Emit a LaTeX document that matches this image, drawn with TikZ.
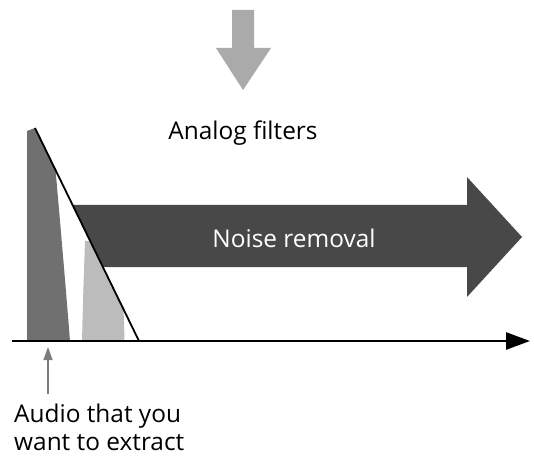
\documentclass[tikz,border=0pt]{standalone}
\usepackage{fontspec}
\setmainfont{Open Sans}
\usetikzlibrary{arrows.meta}
\definecolor{arrowdark}{RGB}{72,72,72}
\definecolor{banddark}{RGB}{112,112,112}
\definecolor{bandlight}{RGB}{188,188,188}
\definecolor{filtgray}{RGB}{170,170,170}
\definecolor{pointgray}{RGB}{125,125,125}

\begin{document}
\begin{tikzpicture}[
  x = 1bp, y = -1bp,
  > = {Triangle[length=24bp,width=17bp]},
  lbl/.style = {inner sep=0pt, font=\fontsize{24.5}{28}\selectfont},
  blockarrow/.style = {fill=arrowdark, draw=none},
  band/.style = {draw=none},
  pointer/.style = {draw=pointgray, line width=1.4bp,
                    -{Triangle[length=13bp,width=9bp]}}
]
\useasboundingbox (0,0) rectangle (534,456);

% filter arrow on top
\fill[filtgray] (232,10) -- (254,10) -- (254,48) -- (271,48)
  -- (243,90) -- (216,48) -- (232,48) -- cycle;
\node[lbl, anchor=base] (filt) at (243,140) {Analog filters};

% noise removal arrow
\fill[blockarrow] (72.6,205) -- (467,205) -- (467,177) -- (522,237)
  -- (467,297) -- (467,267) -- (102.9,267) -- cycle;
\node[lbl, anchor=base, text=white] (noise) at (294,248) {Noise removal};

% audio bands
\fill[banddark] (27,131) -- (35,128) -- (55.5,170)
  .. controls (60,220) and (66,290) .. (70,341) -- (27,341) -- cycle;
\fill[bandlight] (85,241) -- (90.2,241) -- (123.4,309)
  .. controls (124,320) .. (124.5,341) -- (82,341)
  .. controls (83,300) .. (85,241) -- cycle;

% filter slope and axis
\coordinate (ftop) at (35,128);
\coordinate (fbot) at (139,341);
\draw[line width=1.8bp] (ftop) -- (fbot);
\coordinate (axisL) at (12,341);
\coordinate (axisR) at (530,341);
\draw[->, line width=2.6bp] (axisL) -- (axisR);

% label
\node[lbl, anchor=base west, align=left] (audio) at (14,450)
  {Audio that you\\want to extract};
\coordinate (src) at (48,394);
\coordinate (pick) at (48,347);
\draw[pointer] (src) -- (pick);
\end{tikzpicture}
\end{document}
